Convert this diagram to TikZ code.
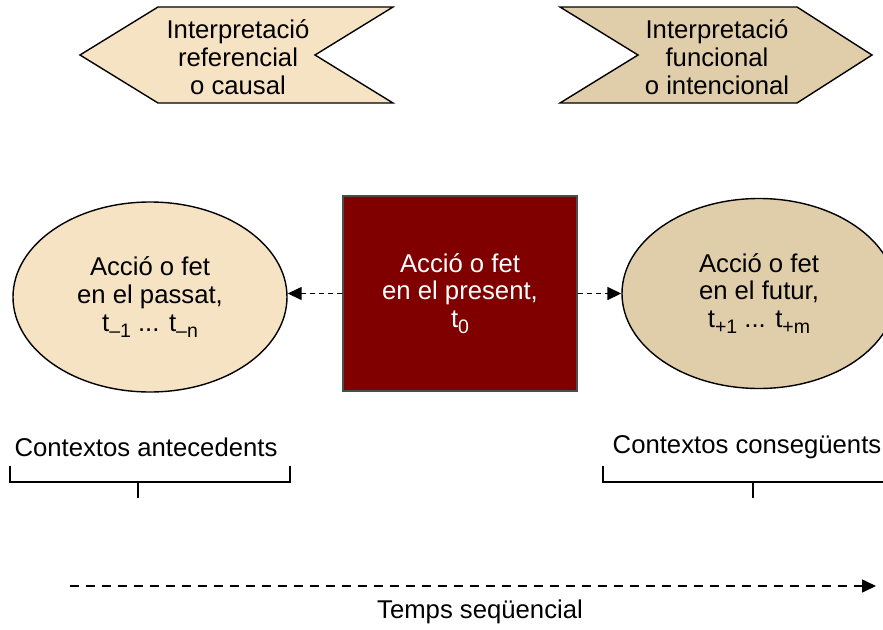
\documentclass[tikz,border=0pt]{standalone}
\usepackage{fontspec}
\setmainfont{Liberation Sans}
\usetikzlibrary{shapes.geometric,arrows.meta}

\definecolor{pastcol}{HTML}{F6E3C4}
\definecolor{futurecol}{HTML}{E0CDA9}
\definecolor{presentcol}{HTML}{800000}

\newcommand{\tsub}[1]{\raisebox{-0.45ex}{\fontsize{19.5}{19.5}\selectfont #1}}

\begin{document}
\begin{tikzpicture}[
    x=1pt, y=-1pt,
    txt/.style={font=\fontsize{25.7}{27.8}\selectfont, align=center, inner sep=0pt},
    action/.style={ellipse, draw, line width=1.4pt, minimum width=274pt, minimum height=190pt, txt},
    flag/.style={draw, line width=1.4pt},
    bracketline/.style={line width=1.5pt},
    >={Triangle[length=14pt,width=13pt]}
]
\clip (0,0) rectangle (883,629);

% Interpretation flags
\draw[flag, fill=pastcol] (80,55) -- (158,7) -- (393,7) -- (315,55) -- (393,103) -- (158,103) -- cycle;
\node[txt] (interp1) at (238,57) {Interpretació\\referencial\\o causal};

\draw[flag, fill=futurecol] (560,7) -- (797,7) -- (872,55) -- (797,103) -- (560,103) -- (638,55) -- cycle;
\node[txt] (interp2) at (717,57) {Interpretació\\funcional\\o intencional};

% Actions
\node[action, fill=pastcol] (past) at (150,297) {Acció o fet\\en el passat,\\t\tsub{–1} ... t\tsub{–n}};
\node[txt, draw=black!70, line width=1.2pt, fill=presentcol, text=white,
      minimum width=234pt, minimum height=195pt] (present) at (460,293.5) {Acció o fet\\en el present,\\t\tsub{0}};
\node[action, fill=futurecol] (future) at (759,293.5) {Acció o fet\\en el futur,\\t\tsub{+1} ... t\tsub{+m}};

% Connections
\draw[->, line width=1.5pt, dash pattern=on 5pt off 4pt] (present.west) -- (present.west -| past.east);
\draw[->, line width=1.5pt, dash pattern=on 5pt off 4pt] (present.east) -- (present.east -| future.west);

% Contexts
\node[txt] (ctxpast) at (146,447) {Contextos antecedents};
\draw[bracketline] (10,466) -- (10,482) -- (290,482) -- (290,466);
\draw[bracketline] (138,482) -- (138,498);

\node[txt] (ctxfuture) at (747,447) {Contextos consegüents};
\draw[bracketline] (603,466) -- (603,482) -- (890,482);
\draw[bracketline] (753,482) -- (753,498);

% Time line
\coordinate (tstart) at (70,586);
\coordinate (tend) at (876,586);
\draw[->, line width=1.6pt, dash pattern=on 9pt off 7pt] (tstart) -- (tend);
\node[txt] (time) at (480,612) {Temps seqüencial};

\end{tikzpicture}
\end{document}
